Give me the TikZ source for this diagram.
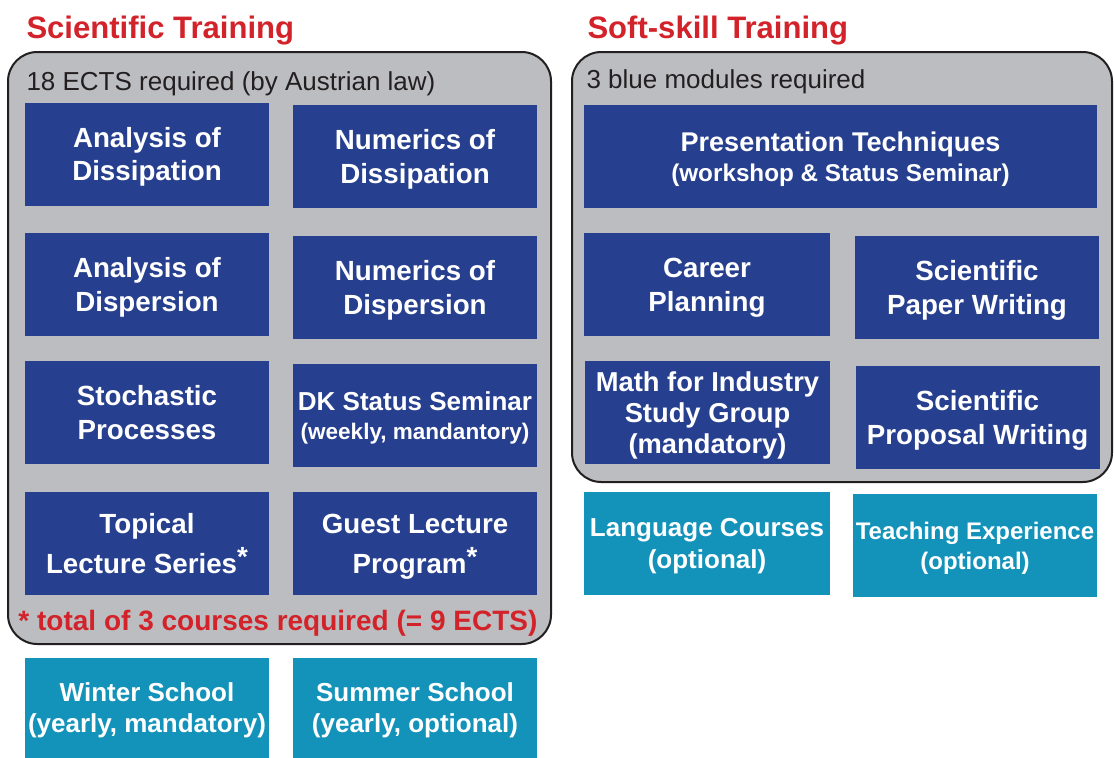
\documentclass[tikz,border=0pt]{standalone}
\usepackage{fontspec}
\setmainfont{Liberation Sans}

\definecolor{modblue}{RGB}{38,63,142}
\definecolor{optteal}{RGB}{20,147,186}
\definecolor{panelgray}{RGB}{188,189,192}
\definecolor{panelline}{RGB}{35,31,32}
\definecolor{headred}{RGB}{210,35,42}

\newcommand{\mainsize}{\fontsize{20.8}{25.3}\selectfont\bfseries}
\newcommand{\optsize}{\fontsize{19.5}{23.6}\selectfont\bfseries}
\newcommand{\starmark}{\raisebox{0.25em}{*}}

\tikzset{every picture/.style={line width=0.75pt}}
\tikzset{
  module/.style={fill=modblue, text=white, inner sep=0pt, align=center,
    minimum width=183pt, minimum height=77.25pt, text depth=-2.5pt, font=\mainsize},
  extra/.style={module, fill=optteal, font=\optsize},
  panel/.style={draw=panelline, fill=panelgray, line width=1.5pt, rounded corners=22pt},
  heading/.style={anchor=base west, inner sep=0pt, text=headred,
    font=\fontsize{23.3}{28}\selectfont\bfseries},
  note/.style={anchor=base west, inner sep=0pt, text=panelline,
    font=\fontsize{19.5}{23}\selectfont}
}

\begin{document}
\begin{tikzpicture}[x=0.75pt,y=0.75pt,yscale=-1,xscale=1]
\useasboundingbox (0,0) rectangle (1114,757);

%Rounded Rect
\draw[panel] (8,52) rectangle (551,644);
%Rounded Rect
\draw[panel] (572,52) rectangle (1112,482);

% Text Node
\node[heading] (scitrain) at (26,38) {Scientific Training};
% Text Node
\node[heading] (softtrain) at (587,38) {Soft-skill Training};
% Text Node
\node[note] (ects) at (26,90) {18 ECTS required (by Austrian law)};
% Text Node
\node[note] (bluereq) at (586,88) {3 blue modules required};

% Scientific modules
\node[module] (anadiss) at (147,154) {Analysis of\\Dissipation};
\node[module] (numdiss) at (415,156.5) {Numerics of\\Dissipation};
\node[module] (anadisp) at (147,284.5) {Analysis of\\Dispersion};
\node[module] (numdisp) at (415,287.5) {Numerics of\\Dispersion};
\node[module] (stoch) at (147,412.5) {Stochastic\\Processes};
\node[module, font=\fontsize{19.5}{21.4}\selectfont\bfseries] (dkseminar) at (415,415.5)
  {DK Status Seminar\\{\fontsize{16.9}{21}\selectfont (weekly, mandantory)}};
\node[module] (topical) at (147,543.5) {Topical\\[4.7pt]Lecture Series\starmark};
\node[module] (guest) at (415,543.5) {Guest Lecture\\[4.7pt]Program\starmark};

% Text Node
\node[anchor=base west, inner sep=0pt, text=headred, font=\fontsize{21}{25}\selectfont\bfseries]
  (footnote) at (18,630) {* total of 3 courses required (= 9 ECTS)};

% Schools
\node[extra, minimum height=75pt] (winter) at (147,707.5) {Winter School\\(yearly, mandatory)};
\node[extra, minimum height=75pt] (summer) at (415,707.5) {Summer School\\(yearly, optional)};

% Soft-skill modules
\node[module, minimum width=384.75pt, font=\fontsize{20.3}{22.5}\selectfont\bfseries] (present) at (840.5,156.5)
  {Presentation Techniques\\{\fontsize{18.2}{22}\selectfont (workshop \& Status Seminar)}};
\node[module, minimum width=184.5pt] (career) at (707,284.5) {Career\\Planning};
\node[module] (paper) at (977,287.5) {Scientific\\Paper Writing};
\node[module, minimum width=183.75pt, font=\fontsize{20.5}{23.25}\selectfont\bfseries] (mathind) at (707.5,412.5)
  {Math for Industry\\Study Group\\(mandatory)};
\node[module] (proposal) at (977.5,417.5) {Scientific\\Proposal Writing};
\node[extra, minimum width=184.5pt] (language) at (707,543.5) {Language Courses\\(optional)};
\node[extra, font=\fontsize{18}{22.5}\selectfont\bfseries] (teaching) at (975,545.5) {Teaching Experience\\(optional)};

\end{tikzpicture}
\end{document}
